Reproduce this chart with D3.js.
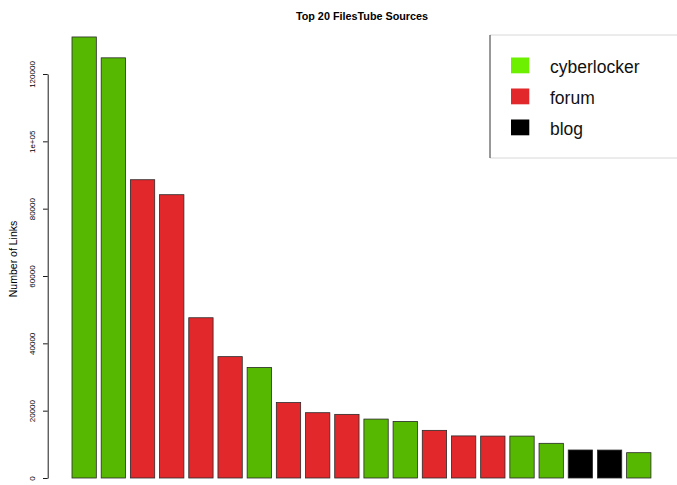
<!DOCTYPE html>
<html>
<head>
<meta charset="utf-8">
<script src="https://cdn.jsdelivr.net/npm/d3@7"></script>
<style>
html,body{margin:0;padding:0;background:#fff;}
svg{display:block;font-family:"Liberation Sans",Arial,sans-serif;}
</style>
</head>
<body>
<svg id="chart" width="677" height="485"></svg>
<script>
// Data
const ranks = ["1","2","3","4","5","6","7","8","9","10","11","12","13","14","15","16","17","18","19","20"];
const links = [131000,124800,88600,84150,47600,36050,32850,22400,19400,18900,17500,16800,14150,12500,12450,12450,10300,8320,8300,7520];
const sourceTypes = ["cyberlocker","cyberlocker","forum","forum","forum","forum","cyberlocker","forum","forum","forum","cyberlocker","cyberlocker","forum","forum","forum","cyberlocker","cyberlocker","blog","blog","cyberlocker"];
const legendTypes = ["cyberlocker","forum","blog"];
const yTicks = [0,20000,40000,60000,80000,100000,120000];
const yTickLabels = ["0","20000","40000","60000","80000","1e+05","120000"];

const barColor = {cyberlocker:"#56b800", forum:"#e2282b", blog:"#000000"};
const legendColor = {cyberlocker:"#6cf000", forum:"#e2282b", blog:"#000000"};

const svg = d3.select("#chart");

const x = d3.scaleBand().domain(ranks)
  .range([72, 72 + 29.19*(20 - 1/6)])
  .paddingInner(1/6).paddingOuter(0);
const y = d3.scaleLinear().domain([0,120000]).range([478,74]);

// bars
svg.append("g").selectAll("rect").data(ranks).join("rect")
  .attr("x", d => x(d))
  .attr("width", x.bandwidth())
  .attr("y", (d,i) => y(links[i]))
  .attr("height", (d,i) => y(0) - y(links[i]))
  .attr("fill", (d,i) => barColor[sourceTypes[i]])
  .attr("stroke", "#2a2a2a")
  .attr("stroke-width", 0.8);

// y axis
const axisX = 47.7;
const gAxis = svg.append("g").attr("transform", `translate(${axisX},0)`)
  .call(d3.axisLeft(y).tickValues(yTicks)
    .tickFormat((d,i) => yTickLabels[i]).tickSize(4.7).tickSizeOuter(0));
gAxis.select(".domain").attr("stroke","#000").attr("stroke-width",0.9);
gAxis.selectAll(".tick line").attr("stroke","#000").attr("stroke-width",0.9);
gAxis.selectAll(".tick text")
  .attr("x", null).attr("dy", null)
  .attr("transform", "translate(-12.7,0) rotate(-90)")
  .attr("text-anchor","middle")
  .attr("font-family","'Liberation Sans',Arial,sans-serif")
  .attr("font-size", 8)
  .attr("fill","#000");

// y label
svg.append("text")
  .attr("transform","translate(17,259) rotate(-90)")
  .attr("text-anchor","middle")
  .attr("font-size",10.5)
  .attr("fill","#000")
  .text("Number of Links");

// title
svg.append("text")
  .attr("x",362).attr("y",20)
  .attr("text-anchor","middle")
  .attr("font-weight","bold")
  .attr("font-size",10.8)
  .attr("fill","#000")
  .text("Top 20 FilesTube Sources");

// legend
const lg = svg.append("g");
lg.append("line").attr("x1",490).attr("x2",677).attr("y1",35).attr("y2",35).attr("stroke","#d8d8d8").attr("stroke-width",1);
lg.append("line").attr("x1",490).attr("x2",677).attr("y1",158).attr("y2",158).attr("stroke","#d8d8d8").attr("stroke-width",1);
lg.append("line").attr("x1",490).attr("x2",490).attr("y1",35).attr("y2",158).attr("stroke","#333").attr("stroke-width",1);
const baselines = [73.3,104.3,135.3];
legendTypes.forEach((t,i) => {
  lg.append("rect").attr("x",511).attr("y",baselines[i]-15.8).attr("width",18.3).attr("height",15.8)
    .attr("fill",legendColor[t]);
  lg.append("text").attr("x",550).attr("y",baselines[i])
    .attr("font-size",17.5).attr("fill","#111").text(t);
});
</script>
</body>
</html>
